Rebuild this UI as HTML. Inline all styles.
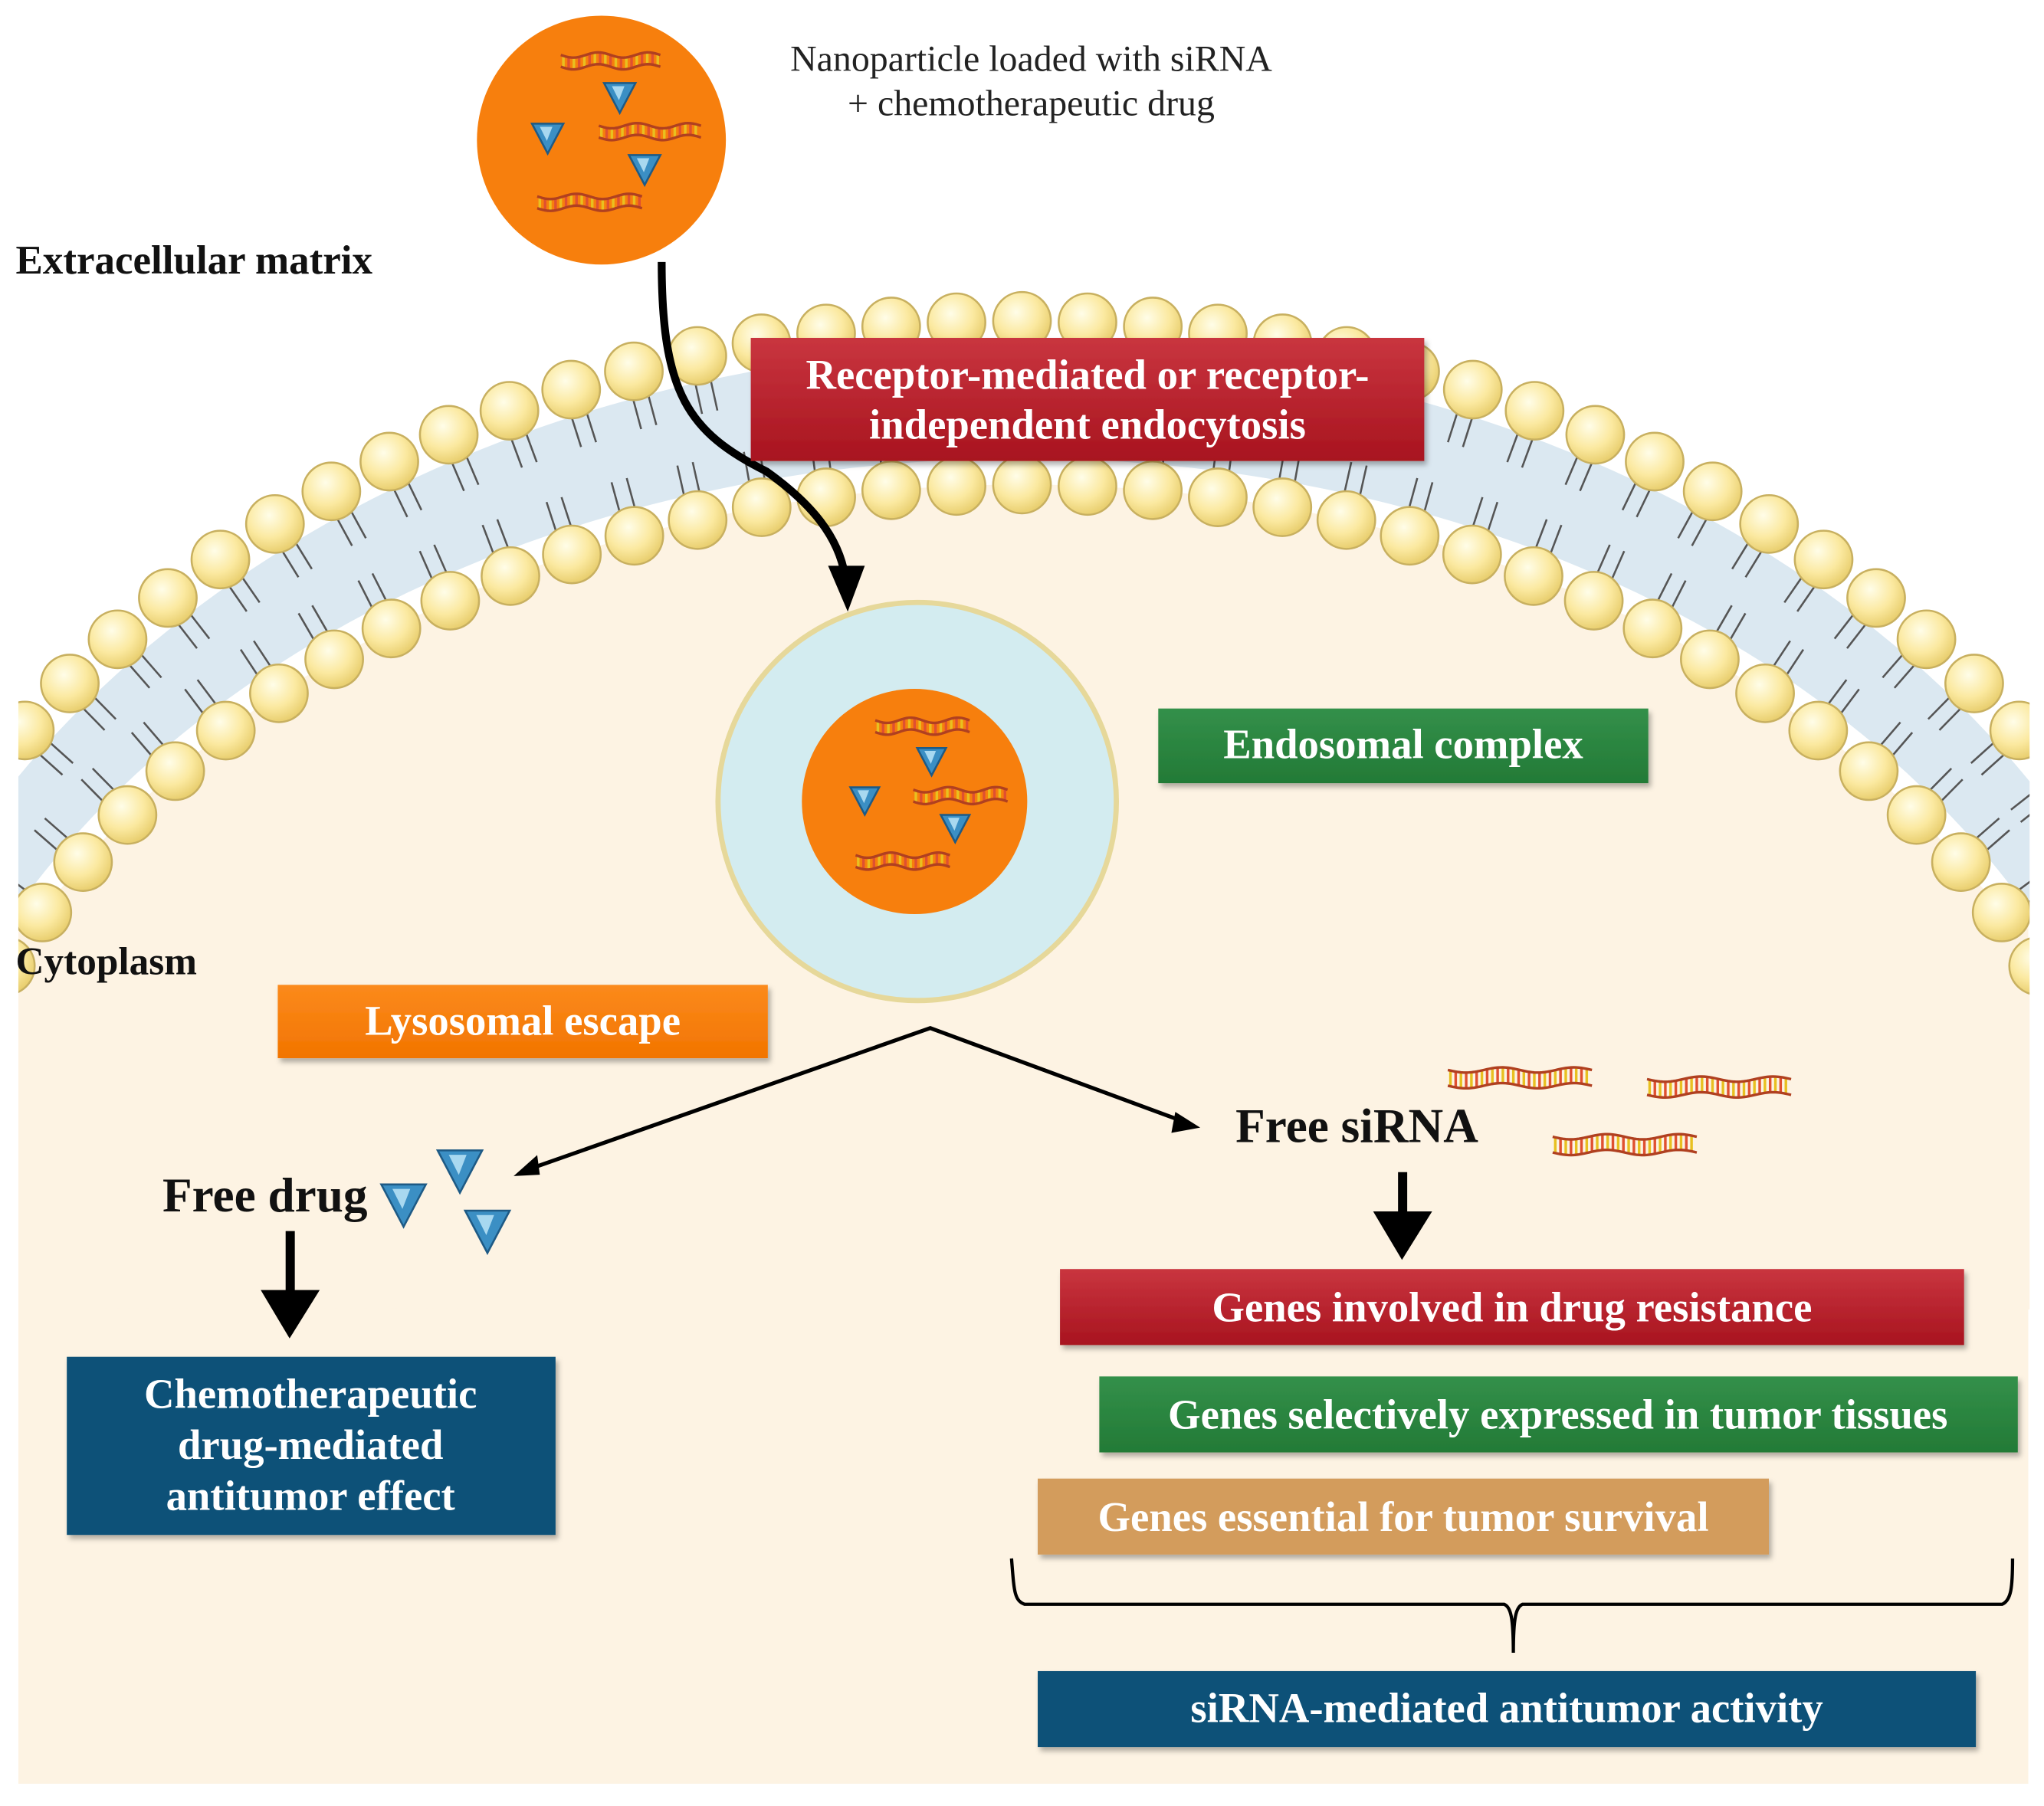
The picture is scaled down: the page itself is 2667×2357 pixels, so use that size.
<!DOCTYPE html>
<html><head><meta charset="utf-8"><style>
html,body{margin:0;padding:0;background:#fff;}
svg{display:block;}
text{font-family:"Liberation Serif",serif;}
</style></head><body>
<svg id="s" width="2667" height="2357" viewBox="0 0 1560 1379" preserveAspectRatio="none" xmlns="http://www.w3.org/2000/svg">
<defs>
<radialGradient id="head" cx="0.4" cy="0.35" r="0.65"><stop offset="0" stop-color="#fffde8"/><stop offset="0.6" stop-color="#fbe9a0"/><stop offset="1" stop-color="#e9cf70"/></radialGradient>
<linearGradient id="red" x1="0" y1="0" x2="0" y2="1"><stop offset="0" stop-color="#c9353f"/><stop offset="1" stop-color="#a8141f"/></linearGradient>
<linearGradient id="grn" x1="0" y1="0" x2="0" y2="1"><stop offset="0" stop-color="#33904a"/><stop offset="1" stop-color="#237a36"/></linearGradient>
<linearGradient id="org" x1="0" y1="0" x2="0" y2="1"><stop offset="0" stop-color="#fb8a1c"/><stop offset="1" stop-color="#f27400"/></linearGradient>
<filter id="sh" x="-5%" y="-10%" width="110%" height="130%"><feDropShadow dx="2" dy="3" stdDeviation="2" flood-color="#000" flood-opacity="0.3"/></filter>
</defs>
<rect x="14" y="700" width="1534" height="662" fill="#fdf3e3"/>
<g id="mem"></g>
<circle cx="459" cy="107" r="95" fill="#f77f0d"/>
<g id="np1"></g>
<text x="787" y="54" font-size="28" text-anchor="middle" fill="#222">Nanoparticle loaded with siRNA</text>
<text x="787" y="88" font-size="28" text-anchor="middle" fill="#222">+ chemotherapeutic drug</text>
<text x="12" y="209" font-size="31" font-weight="bold" fill="#111">Extracellular matrix</text>
<path d="M505,200 C505,300 525,330 585,360 C620,385 640,410 645,440" fill="none" stroke="#000" stroke-width="6"/>
<polygon points="632,432 660,432 647,467" fill="#000"/>
<rect x="573" y="258" width="514" height="94" fill="url(#red)" filter="url(#sh)"/>
<text x="830" y="297" font-size="32" font-weight="bold" fill="#fff" text-anchor="middle">Receptor-mediated or receptor-</text>
<text x="830" y="335" font-size="32" font-weight="bold" fill="#fff" text-anchor="middle">independent endocytosis</text>
<circle cx="700" cy="612" r="152" fill="#d3ecf0" stroke="#e6d89a" stroke-width="4"/>
<circle cx="698" cy="612" r="86" fill="#f77f0d"/>
<g id="np2"></g>
<rect x="884" y="541" width="374" height="57" fill="url(#grn)" filter="url(#sh)"/>
<text x="1071" y="579" font-size="32" font-weight="bold" fill="#fff" text-anchor="middle">Endosomal complex</text>
<text x="12" y="744" font-size="30" font-weight="bold" fill="#111">Cytoplasm</text>
<rect x="212" y="752" width="374" height="56" fill="url(#org)" filter="url(#sh)"/>
<text x="399" y="790" font-size="32" font-weight="bold" fill="#fff" text-anchor="middle">Lysosomal escape</text>
<path d="M403,893 L710,785 L905,857" fill="none" stroke="#000" stroke-width="3"/>
<polygon points="392,898 410,882 412,897" fill="#000"/>
<polygon points="916,861 897,849 894,865" fill="#000"/>
<text x="943" y="872" font-size="37" font-weight="bold" fill="#111">Free siRNA</text>
<text x="124" y="925" font-size="37" font-weight="bold" fill="#111">Free drug</text>
<g id="free"></g>
<rect x="1067" y="895" width="7" height="35" fill="#000"/>
<polygon points="1048,925 1093,925 1070,962" fill="#000"/>
<rect x="218" y="940" width="7" height="50" fill="#000"/>
<polygon points="199,985 244,985 221,1022" fill="#000"/>
<rect x="51" y="1036" width="373" height="136" fill="#0b5178" filter="url(#sh)"/>
<text x="237" y="1075" font-size="32" font-weight="bold" fill="#fff" text-anchor="middle">Chemotherapeutic</text>
<text x="237" y="1114" font-size="32" font-weight="bold" fill="#fff" text-anchor="middle">drug-mediated</text>
<text x="237" y="1153" font-size="32" font-weight="bold" fill="#fff" text-anchor="middle">antitumor effect</text>
<rect x="809" y="969" width="690" height="58" fill="url(#red)" filter="url(#sh)"/>
<text x="1154" y="1009" font-size="32" font-weight="bold" fill="#fff" text-anchor="middle">Genes involved in drug resistance</text>
<rect x="839" y="1051" width="701" height="58" fill="url(#grn)" filter="url(#sh)"/>
<text x="1189" y="1091" font-size="32" font-weight="bold" fill="#fff" text-anchor="middle">Genes selectively expressed in tumor tissues</text>
<rect x="792" y="1129" width="558" height="58" fill="#d39c5b" filter="url(#sh)"/>
<text x="1071" y="1169" font-size="32" font-weight="bold" fill="#fff" text-anchor="middle">Genes essential for tumor survival</text>
<path d="M772,1190 C774,1215 774,1222 782,1225 L1148,1225 C1153,1227 1155,1235 1155,1262 M1155,1262 C1155,1235 1157,1227 1162,1225 L1528,1225 C1535,1222 1536,1212 1536,1190" fill="none" stroke="#000" stroke-width="2.5"/>
<rect x="792" y="1276" width="716" height="58" fill="#0b5178" filter="url(#sh)"/>
<text x="1150" y="1315" font-size="32" font-weight="bold" fill="#fff" text-anchor="middle">siRNA-mediated antitumor activity</text>
</svg>
<script>
var NS="http://www.w3.org/2000/svg";
function el(p,t,a){var e=document.createElementNS(NS,t);for(var k in a)e.setAttribute(k,a[k]);p.appendChild(e);return e;}
var mem=document.getElementById("mem");
var cx=780,cy=1000;
function pt(rx,ry,t){return [cx+rx*Math.cos(t),cy-ry*Math.sin(t)];}
var d="M";
for(var t=0.0;t<=Math.PI+1e-6;t+=0.02){var p=pt(920,735,t);d+=p[0].toFixed(1)+","+p[1].toFixed(1)+" L";}
for(var t=Math.PI;t>=0;t-=0.02){var p=pt(870,650,t);d+=p[0].toFixed(1)+","+p[1].toFixed(1)+" L";}
d=d.slice(0,-2)+"Z";
el(mem,"path",{d:d,fill:"#dbe8f1"});
var d2="M";for(var t=0.0;t<=Math.PI;t+=0.02){var p=pt(853,630,t);d2+=p[0].toFixed(1)+","+p[1].toFixed(1)+" L";}
d2=d2.slice(0,-2)+"Z";
el(mem,"path",{d:d2,fill:"#fdf3e3"});
function layer(rx,ry,inward){
  var list=[Math.PI/2];
  var tt=Math.PI/2;
  while(tt<Math.PI+0.1){var dx=rx*Math.sin(tt),dy=ry*Math.cos(tt);tt+=50/Math.sqrt(dx*dx+dy*dy);list.push(tt);}
  tt=Math.PI/2;
  while(tt>-0.1){var dx=rx*Math.sin(tt),dy=ry*Math.cos(tt);tt-=50/Math.sqrt(dx*dx+dy*dy);list.push(tt);}
  list.forEach(function(t){
    var p=pt(rx,ry,t);
    if(p[1]>760||p[0]<-10||p[0]>1575)return;
    var nx=Math.cos(t)*ry,ny=-Math.sin(t)*rx;var L=Math.sqrt(nx*nx+ny*ny);nx/=L;ny/=L;
    var s=inward?-1:1;
    var tx=-nx*s,ty=-ny*s;
    el(mem,"path",{d:"M"+(p[0]+tx*18-ny*6)+","+(p[1]+ty*18+nx*6)+" l"+(tx*26)+","+(ty*26)+" M"+(p[0]+tx*18+ny*6)+","+(p[1]+ty*18-nx*6)+" l"+(tx*26)+","+(ty*26),stroke:"#555",fill:"none","stroke-width":1.5});
    el(mem,"circle",{cx:p[0],cy:p[1],r:22,fill:"url(#head)",stroke:"#c8b060","stroke-width":1.5});
  });
}
layer(939,755,false);
layer(853,630,true);
el(mem,"rect",{x:0,y:0,width:14,height:1379,fill:"#fff"});
el(mem,"rect",{x:1549,y:0,width:11,height:1379,fill:"#fff"});
function rna(g,x,y,w,h){
  var gg=el(g,"g",{});
  var d1="M"+x+","+y,d2="M"+x+","+(y+h);
  for(var k=0;k<=w;k+=2){var yy=Math.sin(k/w*Math.PI*4)*2;d1+=" L"+(x+k)+","+(y+yy);d2+=" L"+(x+k)+","+(y+h+yy);}
  for(var k=2;k<w;k+=4){var yy=Math.sin(k/w*Math.PI*4)*2;el(gg,"line",{x1:x+k,y1:y+yy,x2:x+k,y2:y+h+yy,stroke:(k%8<4?"#e8c020":"#e05030"),"stroke-width":2});}
  el(gg,"path",{d:d1,stroke:"#b04020",fill:"none","stroke-width":2});
  el(gg,"path",{d:d2,stroke:"#b04020",fill:"none","stroke-width":2});
}
function tri(g,x,y,s){
  el(g,"polygon",{points:(x-s)+","+(y-s*0.8)+" "+(x+s)+","+(y-s*0.8)+" "+x+","+(y+s*1.1),fill:"#3b8fc4",stroke:"#1e5a85","stroke-width":1.5});
  el(g,"polygon",{points:(x-s*0.5)+","+(y-s*0.6)+" "+(x+s*0.3)+","+(y-s*0.6)+" "+(x-s*0.05)+","+(y+s*0.3),fill:"#a8d8f0"});
}
var n1=document.getElementById("np1");
rna(n1,428,42,76,9);rna(n1,457,96,78,9);rna(n1,410,150,80,9);
tri(n1,473,73,12);tri(n1,418,104,12);tri(n1,492,128,12);
var n2=document.getElementById("np2");
rna(n2,668,550,72,9);rna(n2,697,603,72,9);rna(n2,653,653,72,9);
tri(n2,711,580,11);tri(n2,660,610,11);tri(n2,729,631,11);
var f=document.getElementById("free");
rna(f,1105,817,110,12);rna(f,1257,824,110,12);rna(f,1185,868,110,12);
tri(f,351,892,17);tri(f,308,918,17);tri(f,372,938,17);
</script>
</body></html>
